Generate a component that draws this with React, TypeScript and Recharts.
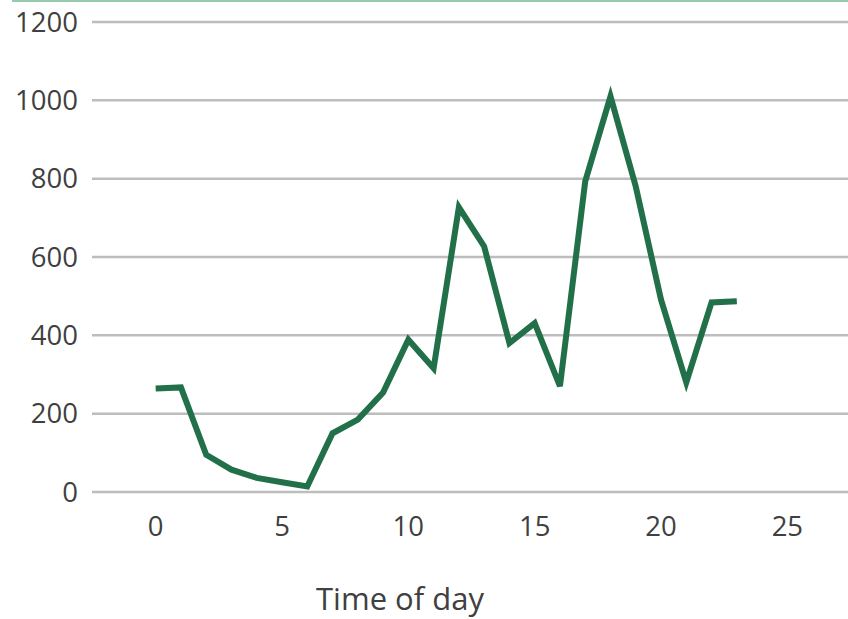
import { LineChart, Line, XAxis, YAxis, CartesianGrid, Label } from 'recharts';

// hourly counts, hour 0 through 23
const hours = [0, 1, 2, 3, 4, 5, 6, 7, 8, 9, 10, 11, 12, 13, 14, 15, 16, 17, 18, 19, 20, 21, 22, 23];
const counts = [264, 267, 95, 57, 36, 25, 14, 150, 185, 254, 389, 316, 727, 627, 380, 431, 270, 793, 1010, 780, 491, 280, 484, 487];

const xTicks = [0, 5, 10, 15, 20, 25];
const yTicks = [0, 200, 400, 600, 800, 1000, 1200];

const data = hours.map((h, i) => ({ hour: h, count: counts[i] }));

const font = '"Open Sans", "Noto Sans", sans-serif';
const textColor = '#404040';

export default function App() {
  return (
    <div style={{ position: 'absolute', left: 0, top: 0, width: 848, height: 619, background: '#fff', fontFamily: font, overflow: 'hidden' }}>
      <div style={{ position: 'absolute', left: 12, top: 0, width: 836, height: 2, background: '#96c9ad' }} />
      <LineChart width={848} height={619} data={data} margin={{ top: 22, right: 0, bottom: 0, left: 0 }}>
        <CartesianGrid horizontal vertical={false} stroke="#bdbdbd" strokeWidth={2.5} />
        <XAxis
          dataKey="hour"
          type="number"
          domain={[-2.52, 27.4]}
          ticks={xTicks}
          allowDataOverflow
          axisLine={false}
          tickLine={false}
          tickSize={0}
          tickMargin={24}
          height={127}
          tick={{ fill: textColor, fontSize: 27.5, fontFamily: font }}
        >
          <Label
            content={({ viewBox }: any) => (
              <text
                x={viewBox.x + 308}
                y={viewBox.y + viewBox.height - 9}
                textAnchor="middle"
                fill={textColor}
                fontSize={31}
                fontFamily={font}
              >
                Time of day
              </text>
            )}
          />
        </XAxis>
        <YAxis
          type="number"
          domain={[0, 1200]}
          ticks={yTicks}
          width={92}
          axisLine={false}
          tickLine={false}
          tickSize={0}
          tickMargin={14}
          tick={{ fill: textColor, fontSize: 27.5, fontFamily: font }}
        />
        <Line
          type="linear"
          dataKey="count"
          stroke="#22704a"
          strokeWidth={6}
          strokeLinecap="butt"
          strokeLinejoin="miter"
          dot={false}
          activeDot={false}
          isAnimationActive={false}
        />
      </LineChart>
    </div>
  );
}
